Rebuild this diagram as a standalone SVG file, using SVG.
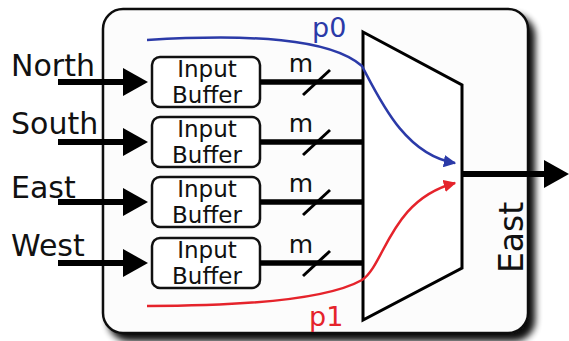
<svg xmlns="http://www.w3.org/2000/svg" width="569" height="341" viewBox="0 0 569 341">
  <style>
    .lbl { font-family: "DejaVu Sans", "Liberation Sans", sans-serif; fill: #111; }
    .side { font-size: 30px; }
    .buf rect { fill: #fff; stroke: #111; stroke-width: 2.5; }
    .buf text { font-size: 23px; text-anchor: middle; }
    .bus { stroke: #000; stroke-width: 5.5; fill: none; }
    .in { stroke: #000; stroke-width: 6; fill: none; }
    .slash { stroke: #000; stroke-width: 3; }
    .m { font-size: 25px; text-anchor: middle; }
    .path-p0 { stroke: #2b3aa8; stroke-width: 2.5; fill: none; }
    .path-p1 { stroke: #e5232b; stroke-width: 2.5; fill: none; }
  </style>
  <defs>
    <filter id="drop" x="-10%" y="-10%" width="125%" height="125%">
      <feGaussianBlur in="SourceAlpha" stdDeviation="3.5"/>
      <feOffset dx="6" dy="7" result="blur"/>
      <feComponentTransfer><feFuncA type="linear" slope="0.95"/></feComponentTransfer>
      <feMerge><feMergeNode/><feMergeNode in="SourceGraphic"/></feMerge>
    </filter>
    <marker id="headBlue" viewBox="0 0 10 10" refX="9" refY="5" markerWidth="5" markerHeight="5" orient="auto" markerUnits="strokeWidth">
      <path d="M0,0 L10,5 L0,10 z" fill="#2b3aa8"/>
    </marker>
    <marker id="headRed" viewBox="0 0 10 10" refX="9" refY="5" markerWidth="5" markerHeight="5" orient="auto" markerUnits="strokeWidth">
      <path d="M0,0 L10,5 L0,10 z" fill="#e5232b"/>
    </marker>
  </defs>

  <rect width="569" height="341" fill="#fff"/>

  <!-- router frame -->
  <g id="router">
    <rect x="103" y="9" width="425" height="324" rx="20" fill="#fcfcfc" stroke="#111" stroke-width="2.5" filter="url(#drop)"/>
  </g>

  <!-- port names -->
  <g id="port-labels" class="lbl side">
    <text x="11" y="76">North</text>
    <text x="11" y="134">South</text>
    <text x="11" y="198">East</text>
    <text x="11" y="256">West</text>
  </g>

  <!-- input buffers -->
  <g id="buf-north" class="buf lbl">
    <rect x="152" y="57" width="108" height="50" rx="8"/>
    <text x="207" y="77">Input</text><text x="207" y="103">Buffer</text>
  </g>
  <g id="buf-south" class="buf lbl">
    <rect x="152" y="117" width="108" height="50" rx="8"/>
    <text x="207" y="137">Input</text><text x="207" y="163">Buffer</text>
  </g>
  <g id="buf-east" class="buf lbl">
    <rect x="152" y="177" width="108" height="50" rx="8"/>
    <text x="207" y="197">Input</text><text x="207" y="223">Buffer</text>
  </g>
  <g id="buf-west" class="buf lbl">
    <rect x="152" y="238" width="108" height="50" rx="8"/>
    <text x="207" y="258">Input</text><text x="207" y="284">Buffer</text>
  </g>

  <!-- crossbar / multiplexer -->
  <g id="mux">
    <polygon points="363,32 462,85 462,268 363,320" fill="#fff" stroke="#000" stroke-width="3" stroke-linejoin="miter"/>
  </g>

  <!-- output port name -->
  <g id="out-label" class="lbl">
    <text x="523" y="273" font-size="33" transform="rotate(-90 523 273)">East</text>
  </g>

  <!-- connectors -->
  <g id="connectors">
    <!-- incoming links -->
    <g class="in">
      <line x1="58" y1="82" x2="126" y2="82"/>
      <line x1="58" y1="142" x2="126" y2="142"/>
      <line x1="58" y1="202" x2="126" y2="202"/>
      <line x1="58" y1="263" x2="126" y2="263"/>
    </g>
    <g fill="#000">
      <polygon points="123,68 148,82 123,96"/>
      <polygon points="123,128 148,142 123,156"/>
      <polygon points="123,188 148,202 123,216"/>
      <polygon points="123,249 148,263 123,277"/>
    </g>
    <!-- m-bit buses into the mux -->
    <g class="bus">
      <line x1="260" y1="82" x2="363" y2="82"/>
      <line x1="260" y1="142" x2="363" y2="142"/>
      <line x1="260" y1="202" x2="363" y2="202"/>
      <line x1="260" y1="263" x2="363" y2="263"/>
    </g>
    <g class="slash">
      <line x1="303" y1="95" x2="330" y2="70"/>
      <line x1="303" y1="155" x2="330" y2="130"/>
      <line x1="303" y1="215" x2="330" y2="190"/>
      <line x1="303" y1="276" x2="330" y2="251"/>
    </g>
    <g class="lbl m">
      <text x="301" y="72">m</text>
      <text x="301" y="132">m</text>
      <text x="301" y="192">m</text>
      <text x="301" y="253">m</text>
    </g>
    <!-- outgoing link -->
    <line x1="462" y1="174" x2="548" y2="174" stroke="#000" stroke-width="6"/>
    <polygon points="544,160 569,174 544,188" fill="#000"/>
    <!-- packet paths -->
    <path class="path-p0" d="M147,40 C250,34 330,38 362,66 C380,100 405,155 455,163" marker-end="url(#headBlue)"/>
    <path class="path-p1" d="M147,306 C250,306 330,298 362,280 C385,265 390,200 455,183" marker-end="url(#headRed)"/>
    <text x="312" y="37" font-family="DejaVu Sans, sans-serif" font-size="27" fill="#2b3aa8">p0</text>
    <text x="309" y="326" font-family="DejaVu Sans, sans-serif" font-size="27" fill="#e5232b">p1</text>
  </g>
</svg>
